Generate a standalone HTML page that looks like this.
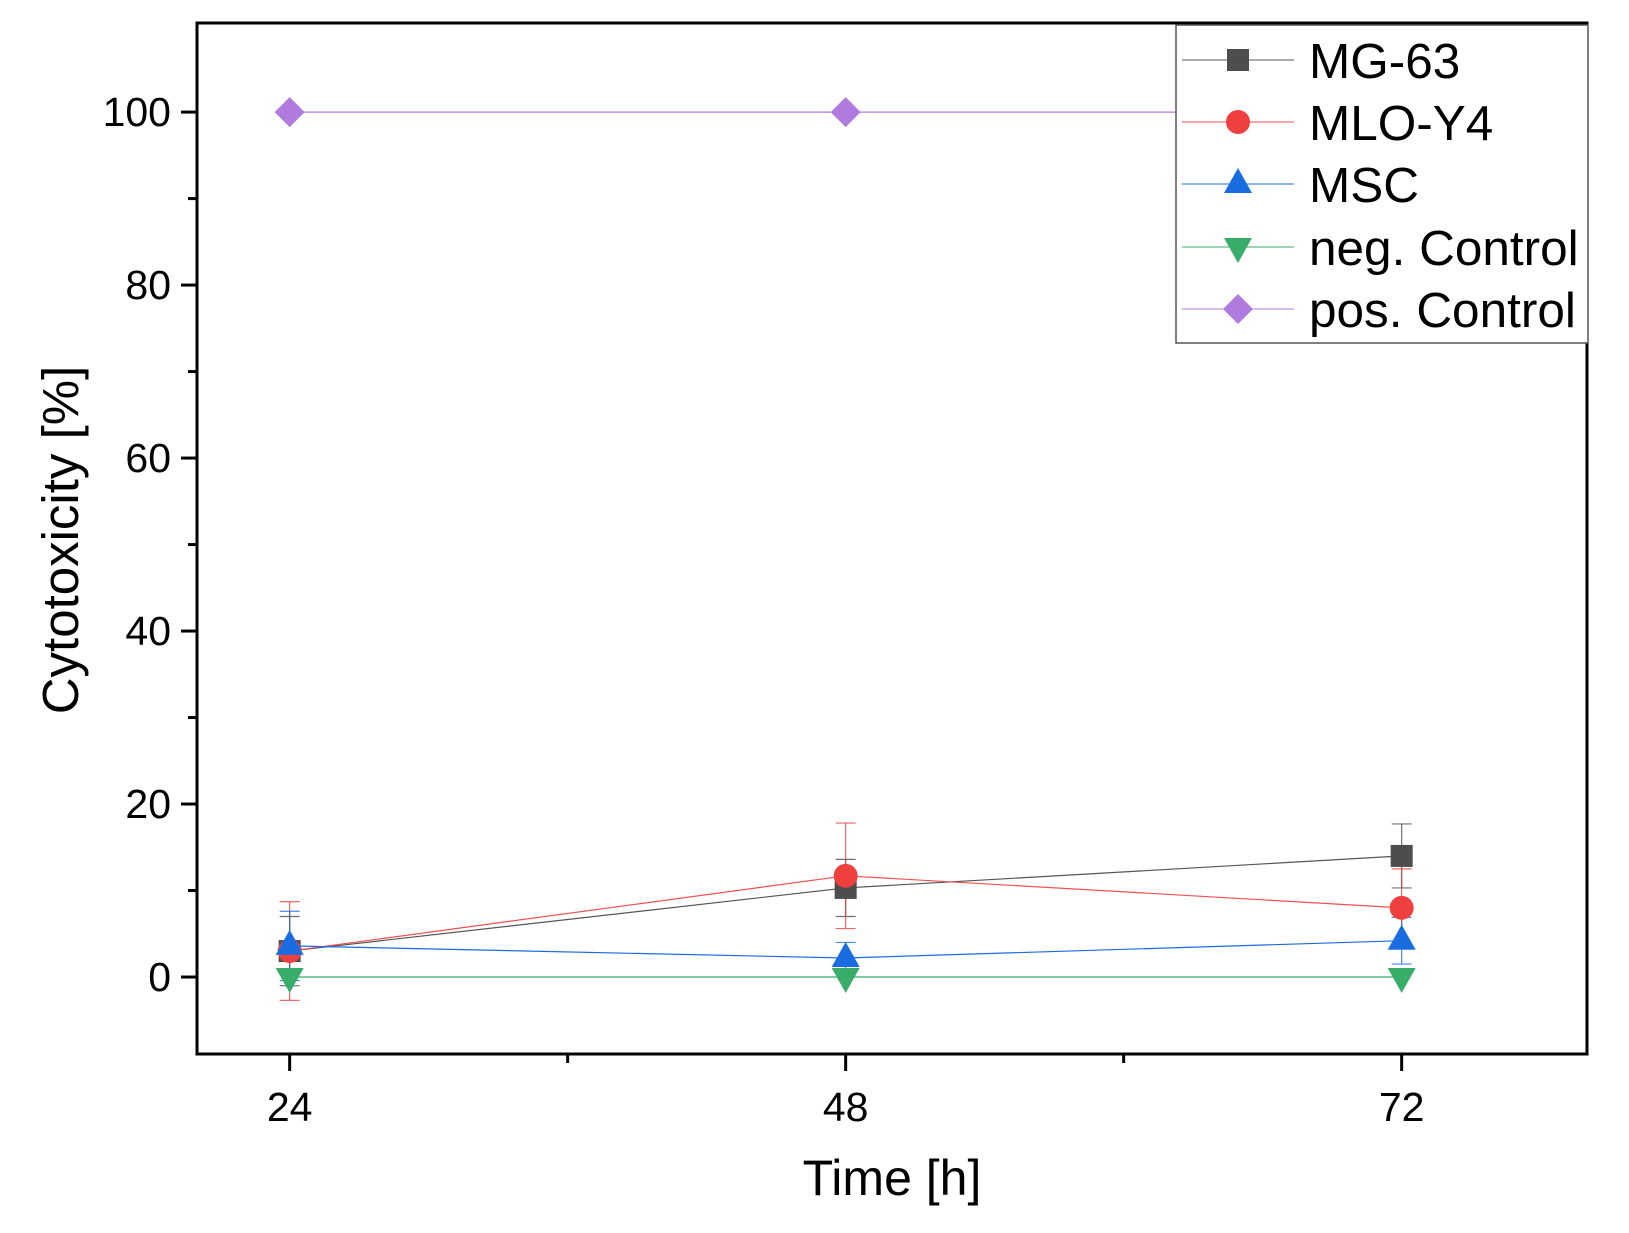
<!DOCTYPE html>
<html><head><meta charset="utf-8"><style>
html,body{margin:0;padding:0;background:#fff}
svg{display:block;font-family:"Liberation Sans",Arial,sans-serif}
</style></head><body>
<svg id="chart" width="1629" height="1233" viewBox="0 0 1629 1233" xmlns="http://www.w3.org/2000/svg"></svg>
<script>
const timePoints = [24, 48, 72];
const mg63 = [3, 10.3, 14];
const mg63Err = [4, 3.3, 3.7];
const mloY4 = [3, 11.7, 8];
const mloY4Err = [5.7, 6.1, 4.5];
const msc = [3.6, 2.2, 4.2];
const mscErr = [4, 1.8, 2.7];
const negControl = [0, 0, 0];
const posControl = [100, 100, 100];
const yTicks = [0, 20, 40, 60, 80, 100];
const yMinorTicks = [10, 30, 50, 70, 90];
const xTicks = [24, 48, 72];
const xMinorTicks = [36, 60];

const L=197,R=1587,T=23,B=1054;
const xMin=20,xMax=80,yMin=-8.9,yMax=110.3;
const sx=v=>L+(v-xMin)/(xMax-xMin)*(R-L);
const sy=v=>B-(v-yMin)/(yMax-yMin)*(B-T);
const svg=document.getElementById('chart');
const NS='http://www.w3.org/2000/svg';
function mk(tag,attrs,parent){const e=document.createElementNS(NS,tag);for(const k in attrs)e.setAttribute(k,attrs[k]);(parent||svg).appendChild(e);return e;}

const series=[
 {name:'MG-63',vals:mg63,err:mg63Err,color:'#4d4d4d',line:'#555',shape:'square'},
 {name:'MLO-Y4',vals:mloY4,err:mloY4Err,color:'#ef3f3f',line:'#f05050',shape:'circle'},
 {name:'MSC',vals:msc,err:mscErr,color:'#1a6de0',line:'#1a6de0',shape:'up'},
 {name:'neg. Control',vals:negControl,err:null,color:'#38ad6a',line:'#38ad6a',shape:'down'},
 {name:'pos. Control',vals:posControl,err:null,color:'#b07ade',line:'#b07ade',shape:'diamond'}
];
function marker(shape,x,y,color,parent){
 let e;
 if(shape==='square')e=mk('rect',{x:x-11,y:y-11,width:22,height:22,fill:color},parent);
 else if(shape==='circle')e=mk('circle',{cx:x,cy:y,r:12,fill:color},parent);
 else if(shape==='up')e=mk('polygon',{points:`${x},${y-16} ${x-14},${y+9} ${x+14},${y+9}`,fill:color},parent);
 else if(shape==='down')e=mk('polygon',{points:`${x},${y+16} ${x-14},${y-9} ${x+14},${y-9}`,fill:color},parent);
 else e=mk('polygon',{points:`${x},${y-15} ${x+15},${y} ${x},${y+15} ${x-15},${y}`,fill:color},parent);
 return e;
}
series.forEach(s=>{
 if(!s.err)return;
 const g=mk('g',{});
 
 
 timePoints.forEach((t,i)=>{
  const x=sx(t),y1=sy(s.vals[i]+s.err[i]),y2=sy(s.vals[i]-s.err[i]);
  mk('line',{x1:x,x2:x,y1:y1,y2:y2,stroke:s.color,'stroke-width':1.2,opacity:0.8},g);
  mk('line',{x1:x-10,x2:x+10,y1:y1,y2:y1,stroke:s.color,'stroke-width':1.2,opacity:0.8},g);
  mk('line',{x1:x-10,x2:x+10,y1:y2,y2:y2,stroke:s.color,'stroke-width':1.2,opacity:0.8},g);
 });
});
series.forEach(s=>{
 const g=mk('g',{});
 
 
 mk('polyline',{points:timePoints.map((t,i)=>sx(t)+','+sy(s.vals[i])).join(' '),fill:'none',stroke:s.line,'stroke-width':1.2},g);
 timePoints.forEach((t,i)=>{
  const m=marker(s.shape,sx(t),sy(s.vals[i]),s.color,g);
  
  
 });
});
const frame=mk('rect',{x:L,y:T,width:R-L,height:B-T,fill:'none',stroke:'#000','stroke-width':3});


yTicks.forEach(v=>{
 mk('line',{x1:L-16,x2:L,y1:sy(v),y2:sy(v),stroke:'#000','stroke-width':3});
 const t=mk('text',{x:L-26,y:sy(v)+14,'text-anchor':'end','font-size':41,fill:'#000'});
 t.textContent=v;
 
 
});
yMinorTicks.forEach(v=>mk('line',{x1:L-9,x2:L,y1:sy(v),y2:sy(v),stroke:'#000','stroke-width':3}));
xTicks.forEach(v=>{
 mk('line',{x1:sx(v),x2:sx(v),y1:B,y2:B+17,stroke:'#000','stroke-width':3});
 const t=mk('text',{x:sx(v),y:B+67,'text-anchor':'middle','font-size':41,fill:'#000'});
 t.textContent=v;
 
 
});
xMinorTicks.forEach(v=>mk('line',{x1:sx(v),x2:sx(v),y1:B,y2:B+9,stroke:'#000','stroke-width':3}));
const xt=mk('text',{x:892,y:1195,'text-anchor':'middle','font-size':50,fill:'#000'});
xt.textContent='Time [h]';


const yt=mk('text',{x:0,y:0,'text-anchor':'middle','font-size':51,fill:'#000',transform:'translate(78,540) rotate(-90)'});
yt.textContent='Cytotoxicity [%]';


const lg=mk('g',{});


mk('rect',{x:1176,y:25,width:412,height:318,fill:'#fff',stroke:'#555','stroke-width':1.5},lg);
const rowY=[60,122,184,247,309];
series.forEach((s,i)=>{
 const e=mk('g',{},lg);
 
 
 mk('line',{x1:1182,x2:1294,y1:rowY[i],y2:rowY[i],stroke:s.line,'stroke-width':1.2,opacity:0.8},e);
 marker(s.shape,1238,rowY[i],s.color,e);
 const t=mk('text',{x:1309,y:rowY[i]+18,'font-size':49.5,fill:'#000'},e);
 t.textContent=s.name;
});
</script>
</body></html>
